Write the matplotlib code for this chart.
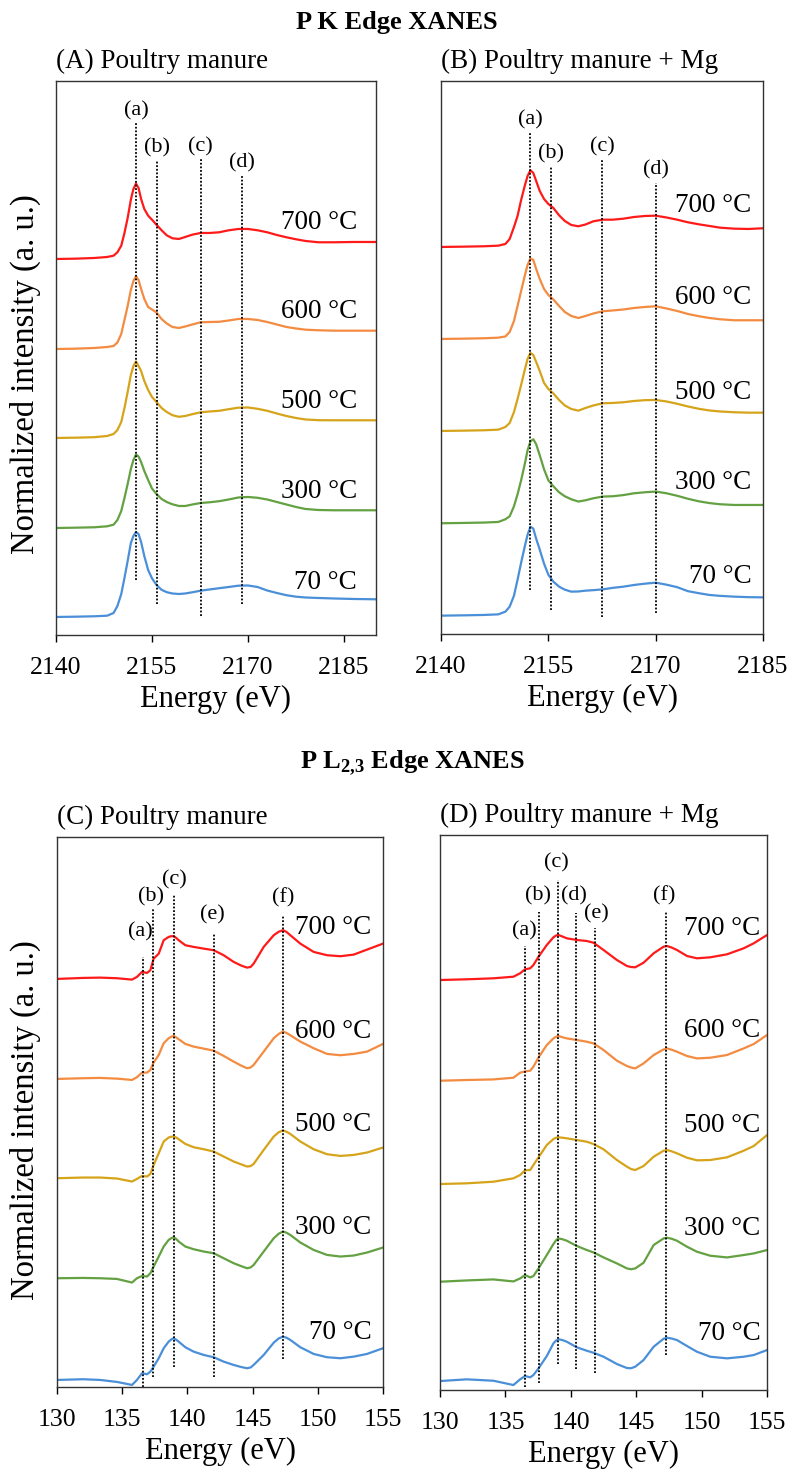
import numpy as np
import matplotlib
matplotlib.use("Agg")
import matplotlib.pyplot as plt

plt.rcParams['font.family'] = ['Liberation Serif', 'DejaVu Serif']
plt.rcParams['mathtext.fontset'] = 'custom'
plt.rcParams['mathtext.rm'] = 'Liberation Serif'
plt.rcParams['mathtext.bf'] = 'Liberation Serif:bold'

temps = ['70 °C', '300 °C', '500 °C', '600 °C', '700 °C']
colores = ['#4a8fd8', '#63a142', '#d6a41a', '#f38b41', '#ff1a1a']

# ---------------- P K edge ----------------
E_A = [2140, 2143, 2146, 2148, 2149, 2149.6, 2150.2, 2150.7, 2151.2, 2151.7, 2152.1, 2152.5,
       2152.9, 2153.3, 2153.8, 2154.4, 2155.0, 2155.7, 2156.5, 2157.3, 2158.2, 2159.2,
       2160.2, 2161.3, 2162.6, 2164, 2165.5, 2167, 2168.5, 2170, 2171.5, 2173, 2174.5,
       2176, 2177.5, 2179, 2181, 2183.5, 2186.5, 2190]
A_70 = [0, 0.03, 0.07, 0.13, 0.4, 1.1, 2.3, 3.9, 5.6, 7.4, 8.1, 8.5, 8.3, 7.5, 6.1, 4.7,
        3.87, 3.2, 2.72, 2.48, 2.35, 2.3, 2.35, 2.47, 2.63, 2.75, 2.88, 3.0, 3.13, 3.15,
        3.0, 2.65, 2.4, 2.18, 2.03, 1.95, 1.9, 1.85, 1.8, 1.77]
A_300 = [0, 0.03, 0.07, 0.17, 0.33, 0.8, 1.7, 3.0, 4.4, 5.9, 6.8, 7.35, 7.15, 6.6, 5.7, 4.8,
         3.95, 3.4, 2.9, 2.6, 2.37, 2.2, 2.2, 2.35, 2.5, 2.57, 2.68, 2.85, 3.05, 3.1, 3.02,
         2.85, 2.6, 2.35, 2.1, 1.9, 1.8, 1.77, 1.77, 1.77]
A_500 = [0, 0.03, 0.08, 0.2, 0.4, 0.8, 1.6, 3.0, 4.6, 6.3, 7.2, 7.66, 7.2, 6.7, 5.7, 4.8,
         4.1, 3.6, 3.0, 2.6, 2.28, 2.12, 2.2, 2.38, 2.57, 2.65, 2.72, 2.88, 3.03, 3.05, 2.92,
         2.72, 2.45, 2.2, 2.0, 1.85, 1.78, 1.77, 1.77, 1.77]
A_600 = [0, 0.03, 0.1, 0.2, 0.3, 0.65, 1.5, 2.9, 4.3, 5.9, 6.8, 7.27, 6.9, 6.0, 5.0, 4.2,
         3.95, 3.65, 3.0, 2.55, 2.2, 2.1, 2.25, 2.45, 2.67, 2.7, 2.72, 2.85, 3.0, 3.0, 2.9,
         2.7, 2.45, 2.2, 2.05, 1.93, 1.87, 1.83, 1.83, 1.83]
A_700 = [0, 0.03, 0.1, 0.2, 0.33, 0.67, 1.33, 2.6, 4.1, 5.93, 7.0, 7.53, 7.1, 6.0, 5.0,
         4.33, 3.93, 3.43, 2.87, 2.37, 2.07, 2.0, 2.2, 2.43, 2.6, 2.6, 2.67, 2.87, 3.0, 3.0,
         2.87, 2.67, 2.4, 2.17, 1.97, 1.8, 1.67, 1.67, 1.7, 1.7]
offs_A = [1.8, 10.7, 19.7, 28.6, 37.6]

E_B = [2140, 2143, 2146, 2148, 2149, 2149.6, 2150.2, 2150.7, 2151.2, 2151.7, 2152.1, 2152.5,
       2152.9, 2153.3, 2153.8, 2154.4, 2155.0, 2155.7, 2156.5, 2157.3, 2158.2, 2159.2,
       2160.2, 2161.3, 2162.6, 2164, 2165.5, 2167, 2168.5, 2170, 2171.5, 2173, 2174.5,
       2176, 2177.5, 2179, 2181, 2183, 2185]
B_70 = [0, 0.03, 0.07, 0.13, 0.4, 0.9, 2.0, 3.6, 5.3, 6.9, 8.1, 8.9, 8.7, 7.7, 6.6, 5.2,
        4.1, 3.4, 2.9, 2.6, 2.4, 2.42, 2.5, 2.55, 2.63, 2.78, 2.9, 3.07, 3.2, 3.3, 3.1, 2.85,
        2.45, 2.25, 2.07, 1.98, 1.9, 1.85, 1.83]
B_300 = [0, 0.03, 0.07, 0.13, 0.4, 0.7, 1.7, 2.9, 4.3, 5.9, 7.3, 8.2, 8.4, 7.9, 6.8, 5.4,
         4.3, 3.7, 3.1, 2.7, 2.4, 2.17, 2.3, 2.5, 2.67, 2.7, 2.82, 3.0, 3.1, 3.17, 3.0, 2.75,
         2.45, 2.2, 2.02, 1.9, 1.83, 1.83, 1.83]
B_500 = [0, 0.03, 0.07, 0.13, 0.4, 0.8, 1.9, 3.2, 4.6, 6.1, 7.2, 7.8, 7.6, 6.9, 6.0, 4.8,
         4.2, 3.75, 3.1, 2.55, 2.2, 2.03, 2.3, 2.55, 2.77, 2.8, 2.87, 3.0, 3.08, 3.1, 2.95,
         2.72, 2.45, 2.22, 2.05, 1.95, 1.87, 1.83, 1.83]
B_600 = [0, 0.03, 0.07, 0.13, 0.25, 0.7, 1.8, 3.3, 4.8, 6.3, 7.4, 8.05, 7.9, 7.0, 6.0, 5.0,
         4.4, 3.95, 3.3, 2.7, 2.3, 2.1, 2.3, 2.55, 2.77, 2.85, 2.95, 3.1, 3.2, 3.27, 3.05,
         2.8, 2.5, 2.28, 2.1, 1.97, 1.87, 1.87, 1.87]
B_700 = [0, 0.03, 0.07, 0.13, 0.3, 0.8, 2.0, 3.1, 4.7, 6.1, 7.1, 7.67, 7.4, 6.6, 5.6, 4.8,
         4.3, 3.9, 3.17, 2.6, 2.2, 2.07, 2.25, 2.57, 2.73, 2.73, 2.83, 3.0, 3.1, 3.13, 2.95,
         2.73, 2.47, 2.27, 2.1, 1.93, 1.83, 1.8, 1.87]
offs_B = [1.83, 11.07, 20.3, 29.5, 38.7]

# ---------------- P L2,3 edge ----------------
E_C = [130.0, 132.0, 133.3, 134.6, 135.75, 136.13, 136.52, 136.9, 137.16, 137.41, 137.8,
       138.18, 138.56, 138.76, 138.95, 139.14, 139.33, 139.84, 140.48, 141.25, 142.01,
       142.78, 143.55, 144.1, 144.57, 144.85, 145.08, 145.85, 146.62, 147.0, 147.33, 147.6,
       147.89, 148.66, 149.68, 150.71, 151.73, 152.75, 153.77, 155.0]
C_70 = [0, 0.07, 0, -0.2, -0.5, 0, 0.67, 0.57, 0.83, 1.33, 2.17, 3.17, 3.83, 4.05, 4.17,
        4.02, 3.83, 3.27, 2.83, 2.5, 2.27, 1.83, 1.5, 1.3, 1.17, 1.25, 1.5, 2.5, 3.73, 4.15,
        4.33, 4.22, 4.0, 3.27, 2.6, 2.27, 2.17, 2.33, 2.6, 3.17]
C_300 = [0, 0.03, 0, -0.07, -0.43, 0, 0.23, 0.17, 0.5, 1.17, 2.17, 3.17, 3.83, 4.0, 4.1,
         3.92, 3.67, 3.17, 2.9, 2.67, 2.5, 2.0, 1.5, 1.22, 1.0, 1.08, 1.33, 2.67, 4.0, 4.45,
         4.67, 4.55, 4.33, 3.57, 2.83, 2.33, 2.17, 2.27, 2.57, 3.07]
C_500 = [0, 0.07, 0.07, -0.03, -0.33, -0.07, 0.23, 0.17, 0.43, 1.33, 2.5, 3.67, 4.07, 4.15,
         4.17, 4.07, 3.9, 3.43, 3.1, 2.9, 2.67, 2.17, 1.67, 1.4, 1.17, 1.22, 1.43, 2.83, 4.17,
         4.6, 4.77, 4.65, 4.43, 3.67, 2.9, 2.4, 2.23, 2.33, 2.57, 3.07]
C_600 = [0, 0.07, 0.1, 0.03, -0.1, 0.17, 0.63, 0.63, 0.9, 1.63, 2.4, 3.57, 4.07, 4.22, 4.3,
         4.15, 3.97, 3.5, 3.23, 3.03, 2.83, 2.3, 1.73, 1.35, 1.07, 1.15, 1.4, 2.73, 4.07, 4.5,
         4.73, 4.6, 4.37, 3.73, 3.07, 2.5, 2.37, 2.5, 2.73, 3.5]
C_700 = [0, 0.1, 0.13, 0.07, -0.07, 0.2, 0.7, 0.6, 0.87, 2.03, 2.53, 3.87, 4.2, 4.27, 4.27,
         4.1, 3.87, 3.37, 3.2, 3.03, 2.87, 2.37, 1.7, 1.35, 1.13, 1.2, 1.53, 3.2, 4.37, 4.72,
         4.87, 4.7, 4.37, 3.53, 2.7, 2.37, 2.27, 2.43, 2.93, 3.53]
offs_C = [0.7, 10.87, 20.87, 30.8, 40.8]

E_D = [130.0, 132.04, 134.08, 135.61, 136.12, 136.5, 136.89, 137.14, 137.53, 138.16, 138.67,
       138.87, 139.06, 139.35, 139.69, 140.46, 141.22, 141.73, 142.5, 143.52, 144.29, 144.6,
       144.92, 145.56, 146.33, 147.09, 147.35, 147.7, 148.11, 148.88, 149.64, 150.66,
       151.94, 153.21, 153.98, 155.0]
D_70 = [0, 0.17, 0.03, -0.4, 0.17, 0.5, 0.37, 0.6, 1.27, 2.5, 3.77, 4.05, 4.17, 4.1, 3.93,
        3.37, 3.03, 2.83, 2.43, 1.7, 1.3, 1.28, 1.43, 2.1, 3.43, 4.23, 4.33, 4.25, 4.1, 3.5,
        2.93, 2.43, 2.27, 2.43, 2.6, 3.1]
D_300 = [0, 0.13, 0.23, 0.03, 0.33, 0.67, 0.43, 0.57, 1.33, 2.67, 3.77, 4.15, 4.33, 4.25,
         4.1, 3.57, 3.17, 2.93, 2.43, 1.83, 1.33, 1.25, 1.33, 1.9, 3.67, 4.33, 4.4, 4.3, 4.1,
         3.5, 3.0, 2.6, 2.43, 2.67, 2.83, 3.17]
D_500 = [0, 0.07, 0.23, 0.57, 0.9, 1.37, 1.4, 1.9, 2.67, 3.9, 4.5, 4.63, 4.67, 4.63, 4.57,
         4.4, 4.23, 4.0, 3.47, 2.4, 1.73, 1.5, 1.4, 1.8, 2.73, 3.33, 3.4, 3.27, 3.07, 2.63,
         2.37, 2.4, 2.67, 3.33, 3.8, 4.9]
D_600 = [0, 0.07, 0.13, 0.3, 0.8, 0.93, 1.0, 1.4, 2.33, 3.57, 4.23, 4.4, 4.47, 4.35, 4.23,
         4.07, 3.9, 3.73, 3.07, 2.0, 1.47, 1.32, 1.23, 1.73, 2.57, 3.13, 3.23, 3.1, 2.9, 2.47,
         2.23, 2.3, 2.57, 3.23, 3.67, 4.57]
D_700 = [0, 0.07, 0.17, 0.33, 0.67, 1.07, 1.17, 1.5, 2.33, 3.5, 4.27, 4.45, 4.5, 4.35, 4.17,
         4.0, 3.9, 3.73, 3.0, 2.0, 1.4, 1.3, 1.27, 1.73, 2.67, 3.33, 3.4, 3.25, 3.0, 2.4,
         2.17, 2.27, 2.57, 3.17, 3.67, 4.5]
offs_D = [0.9, 10.83, 20.6, 30.93, 41.0]

# lineas punteadas (energia, tope, fondo)
mk_A = [2152.55, 2155.8, 2162.6, 2169.0]
mk_A_top = [51.2, 47.5, 47.6, 46.0]
mk_A_bot = [5.5, 3.1, 1.9, 3.1]
mk_B = [2152.5, 2155.4, 2162.5, 2170.0]
mk_B_top = [50.1, 46.7, 47.4, 45.1]
mk_B_bot = [4.4, 2.4, 1.7, 2.1]
lab_K = ['(a)', '(b)', '(c)', '(d)']

mk_C = [136.57, 137.36, 138.95, 142.01, 147.33]
mk_C_top = [43.0, 47.9, 49.3, 45.4, 47.2]
mk_C_bot = [0.03, 1.0, 2.0, 0.97, 2.8]
lab_C = ['(a)', '(b)', '(c)', '(e)', '(f)']
lab_C_x = [136.37, 137.18, 139.02, 141.89, 147.33]
lab_C_y = [44.5, 48.0, 49.7, 46.2, 47.9]

mk_D = [136.53, 137.55, 139.0, 140.41, 141.86, 147.27]
mk_D_top = [44.4, 47.8, 51.0, 47.7, 46.2, 47.9]
mk_D_bot = [0.27, 0.73, 2.6, 2.1, 1.7, 3.5]
lab_D = ['(a)', '(b)', '(c)', '(d)', '(e)', '(f)']
lab_D_x = [136.43, 137.47, 138.93, 140.26, 141.94, 147.17]
lab_D_y = [45.0, 48.5, 51.8, 48.5, 46.7, 48.5]

# posicion de etiquetas de temperatura
tx = {'A': 2187.0, 'B': 2183.4, 'C': 154.1, 'D': 154.5}
ty = {'A': [5.2, 14.3, 23.3, 32.3, 41.2],
      'B': [5.7, 15.1, 24.1, 33.6, 42.8],
      'C': [5.4, 15.9, 26.2, 35.5, 45.9],
      'D': [5.7, 16.2, 26.5, 36.0, 46.2]}


def panel(ax, E, curvas, offs, xlim, ylim, xticks, titulo, key):
    for y, off, c in zip(curvas, offs, colores):
        ax.plot(E, np.array(y) + off, color=c, lw=1.6, solid_joinstyle='round')
    for t, yy in zip(temps, ty[key]):
        ax.text(tx[key], yy, t, fontsize=19.5, ha='right', va='center')
    ax.set_xlim(*xlim)
    ax.set_ylim(*ylim)
    ax.set_xticks(xticks)
    ax.set_yticks([])
    ax.tick_params(axis='x', direction='out', length=5, width=1, pad=11, labelsize=18.5)
    for s in ax.spines.values():
        s.set_linewidth(1.0)
        s.set_color('#333333')
    ax.set_xlabel('Energy (eV)', fontsize=22, labelpad=4)
    ax.set_title(titulo, loc='left', fontsize=19.5, pad=9)


def marcas(ax, xs, tops, bots, labs, lx, ly):
    for x, t, b in zip(xs, tops, bots):
        ax.plot([x, x], [b, t], color='black', lw=1.3, linestyle=(0, (1, 1)))
    for l, x, y in zip(labs, lx, ly):
        ax.text(x, y, l, fontsize=16, ha='center', va='bottom')


fig = plt.figure(figsize=(7.93, 14.75), dpi=100)
axA = fig.add_axes([0.0706, 0.5695, 0.4035, 0.3756])
axB = fig.add_axes([0.5561, 0.5702, 0.4061, 0.3749])
axC = fig.add_axes([0.0719, 0.0597, 0.4111, 0.3729])
axD = fig.add_axes([0.5549, 0.0576, 0.4124, 0.3763])

panel(axA, E_A, [A_70, A_300, A_500, A_600, A_700], offs_A, (2140, 2190), (0, 55.4),
      [2140, 2155, 2170, 2185], '(A) Poultry manure', 'A')
panel(axB, E_B, [B_70, B_300, B_500, B_600, B_700], offs_B, (2140, 2185), (0, 55.3),
      [2140, 2155, 2170, 2185], '(B) Poultry manure + Mg', 'B')
panel(axC, E_C, [C_70, C_300, C_500, C_600, C_700], offs_C, (130, 155), (0, 55.0),
      [130, 135, 140, 145, 150, 155], '(C) Poultry manure', 'C')
panel(axD, E_D, [D_70, D_300, D_500, D_600, D_700], offs_D, (130, 155), (0, 55.5),
      [130, 135, 140, 145, 150, 155], '(D) Poultry manure + Mg', 'D')

marcas(axA, mk_A, mk_A_top, mk_A_bot, lab_K, mk_A, [t + 0.2 for t in mk_A_top])
marcas(axB, mk_B, mk_B_top, mk_B_bot, lab_K, mk_B, [t + 0.3 for t in mk_B_top])
marcas(axC, mk_C, mk_C_top, mk_C_bot, lab_C, lab_C_x, lab_C_y)
marcas(axD, mk_D, mk_D_top, mk_D_bot, lab_D, lab_D_x, lab_D_y)

axA.set_ylabel('Normalized intensity (a. u.)', fontsize=23.5)
axC.set_ylabel('Normalized intensity (a. u.)', fontsize=23.5)
axA.yaxis.set_label_coords(-0.047, 0.47)
axC.yaxis.set_label_coords(-0.049, 0.485)

fig.text(0.5, 1 - 22 / 1475, 'P K Edge XANES', fontsize=19, fontweight='bold',
         ha='center', va='center')
fig.text(0.52, 1 - 763 / 1475, r'P L$_{\mathbf{2{,}3}}$ Edge XANES', fontsize=19,
         fontweight='bold', ha='center', va='center')

fig.savefig('out.png', dpi=100)
